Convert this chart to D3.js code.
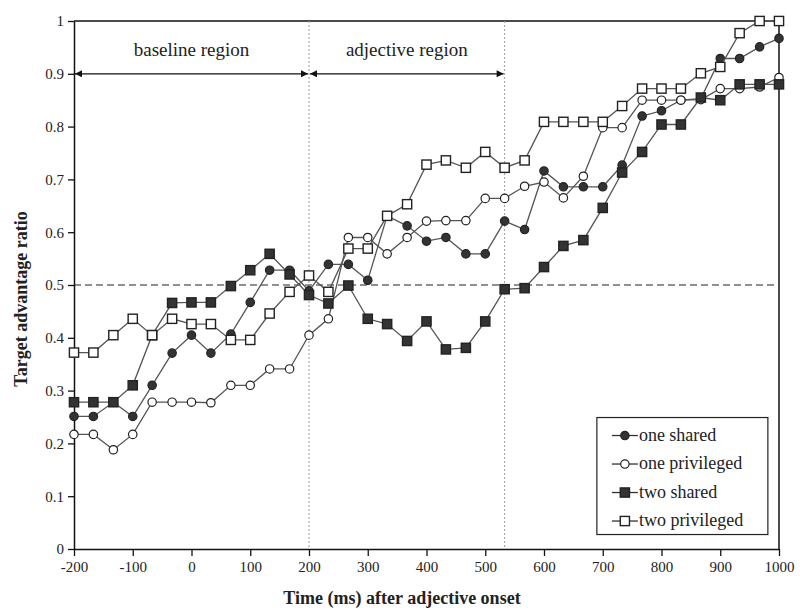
<!DOCTYPE html>
<html>
<head>
<meta charset="utf-8">
<script src="https://cdn.jsdelivr.net/npm/d3@7"></script>
<style>
  body { margin: 0; background: #fff; }
  text { font-family: "Liberation Serif", "Times New Roman", serif; fill: #222; }
</style>
</head>
<body>
<div id="chart"></div>
<script>
// time points (ms after adjective onset), one every 33 ms
var times = [-200, -167, -133, -100, -67, -33, 0, 33, 67, 100, 133, 167, 200, 233, 267, 300, 333,
  367, 400, 433, 467, 500, 533, 567, 600, 633, 667, 700, 733, 767, 800, 833, 867, 900, 933, 967, 1000];

var oneShared = [0.251, 0.251, 0.278, 0.251, 0.310, 0.371, 0.405, 0.371, 0.407, 0.467, 0.528, 0.528,
  0.489, 0.539, 0.539, 0.509, 0.631, 0.612, 0.583, 0.590, 0.559, 0.559, 0.621, 0.605, 0.716, 0.686,
  0.686, 0.686, 0.727, 0.820, 0.830, 0.850, 0.853, 0.929, 0.929, 0.951, 0.967];

var onePrivileged = [0.217, 0.217, 0.188, 0.217, 0.278, 0.278, 0.278, 0.277, 0.310, 0.310, 0.341, 0.341,
  0.405, 0.436, 0.590, 0.590, 0.559, 0.590, 0.621, 0.622, 0.622, 0.664, 0.664, 0.687, 0.695, 0.665,
  0.706, 0.798, 0.798, 0.850, 0.850, 0.850, 0.851, 0.872, 0.872, 0.875, 0.893];

var twoShared = [0.278, 0.278, 0.278, 0.310, 0.405, 0.466, 0.467, 0.467, 0.498, 0.528, 0.559, 0.520,
  0.481, 0.465, 0.499, 0.436, 0.426, 0.394, 0.431, 0.378, 0.381, 0.431, 0.492, 0.494, 0.534, 0.574,
  0.585, 0.646, 0.713, 0.752, 0.804, 0.804, 0.855, 0.850, 0.880, 0.880, 0.880];

var twoPrivileged = [0.372, 0.372, 0.405, 0.436, 0.405, 0.436, 0.426, 0.426, 0.396, 0.396, 0.446, 0.487,
  0.518, 0.487, 0.569, 0.569, 0.631, 0.653, 0.728, 0.736, 0.722, 0.752, 0.722, 0.736, 0.809, 0.809,
  0.809, 0.809, 0.839, 0.872, 0.872, 0.872, 0.901, 0.913, 0.977, 1.0, 1.0];

var seriesNames = ["one shared", "one privileged", "two shared", "two privileged"];
var xTicks = [-200, -100, 0, 100, 200, 300, 400, 500, 600, 700, 800, 900, 1000];
var yTicks = [0, 0.1, 0.2, 0.3, 0.4, 0.5, 0.6, 0.7, 0.8, 0.9, 1];
var regionBounds = [-200, 200, 533];
var regionLabels = ["baseline region", "adjective region"];

var svgWidth = 800;
var svgHeight = 611;
var margin = { top: 21, right: 21, bottom: 62, left: 74 };
var width = svgWidth - margin.left - margin.right;
var height = svgHeight - margin.top - margin.bottom;

var svg = d3.select("#chart")
  .append("svg")
  .attr("width", svgWidth)
  .attr("height", svgHeight);

// arrow heads for the region arrows
var defs = svg.append("defs");
defs.append("marker")
  .attr("id", "head")
  .attr("viewBox", "0 0 10 10")
  .attr("refX", 10)
  .attr("refY", 5)
  .attr("markerWidth", 10)
  .attr("markerHeight", 7)
  .attr("markerUnits", "userSpaceOnUse")
  .attr("orient", "auto-start-reverse")
  .append("path")
  .attr("d", "M0,0 L10,5 L0,10 Z")
  .attr("fill", "#111");

var chartGroup = svg.append("g")
  .attr("transform", `translate(${margin.left}, ${margin.top})`);

var x = d3.scaleLinear().domain([-200, 1000]).range([0, width]);
var y = d3.scaleLinear().domain([0, 1]).range([height, 0]);

// frame: top and right lines
chartGroup.append("line")
  .attr("x1", 0).attr("x2", width).attr("y1", 0).attr("y2", 0)
  .attr("stroke", "#111").attr("stroke-width", 1.5);
chartGroup.append("line")
  .attr("x1", width).attr("x2", width).attr("y1", 0).attr("y2", height)
  .attr("stroke", "#111").attr("stroke-width", 1.5);

// axes
var bottomAxis = d3.axisBottom(x).tickValues(xTicks).tickSize(7).tickSizeOuter(0).tickPadding(5)
  .tickFormat(d => String(d));
var leftAxis = d3.axisLeft(y).tickValues(yTicks).tickSize(6).tickSizeOuter(0).tickPadding(4)
  .tickFormat(d => String(d));

var xAxis = chartGroup.append("g")
  .attr("transform", `translate(0, ${height})`)
  .call(bottomAxis);
var yAxis = chartGroup.append("g").call(leftAxis);

[xAxis, yAxis].forEach(function(ax) {
  ax.select(".domain").attr("stroke", "#111").attr("stroke-width", 1.5);
  ax.selectAll(".tick line").attr("stroke", "#111").attr("stroke-width", 1.3);
  ax.selectAll(".tick text")
    .attr("font-family", "Liberation Serif, serif")
    .attr("font-size", 15)
    .attr("fill", "#222");
});

// region boundaries (dotted verticals)
chartGroup.selectAll(".boundary")
  .data(regionBounds.slice(1))
  .enter()
  .append("line")
  .attr("class", "boundary")
  .attr("x1", d => x(d)).attr("x2", d => x(d))
  .attr("y1", 0).attr("y2", height)
  .attr("stroke", "#999")
  .attr("stroke-width", 1)
  .attr("stroke-dasharray", "2,2");

// chance line at 0.5
chartGroup.append("line")
  .attr("x1", 0).attr("x2", width - 3)
  .attr("y1", y(0.5)).attr("y2", y(0.5))
  .attr("stroke", "#222")
  .attr("stroke-width", 1.2)
  .attr("stroke-dasharray", "7,4");

// region arrows and labels
for (var r = 0; r < regionLabels.length; r++) {
  var x0 = x(regionBounds[r]);
  var x1 = x(regionBounds[r + 1]);
  chartGroup.append("line")
    .attr("x1", x0 + 1).attr("x2", x1 - 1)
    .attr("y1", y(0.9)).attr("y2", y(0.9))
    .attr("stroke", "#111")
    .attr("stroke-width", 1.3)
    .attr("marker-start", "url(#head)")
    .attr("marker-end", "url(#head)");
  chartGroup.append("text")
    .attr("x", (x0 + x1) / 2)
    .attr("y", y(0.9) - 18)
    .attr("text-anchor", "middle")
    .attr("font-size", 19)
    .text(regionLabels[r]);
}

// series data
var allSeries = [oneShared, onePrivileged, twoShared, twoPrivileged];
var shapes = ["circle", "circle", "square", "square"];
var fills = ["#333", "#fff", "#333", "#fff"];

var line = d3.line()
  .x((d, i) => x(times[i]))
  .y(d => y(d));

function drawMarker(g, shape, fill, cx, cy) {
  if (shape === "circle") {
    g.append("circle")
      .attr("cx", cx).attr("cy", cy).attr("r", 4.2)
      .attr("fill", fill)
      .attr("stroke", "#222")
      .attr("stroke-width", 1.2);
  } else {
    g.append("rect")
      .attr("x", cx - 4.6).attr("y", cy - 4.6)
      .attr("width", 9.2).attr("height", 9.2)
      .attr("fill", fill)
      .attr("stroke", "#222")
      .attr("stroke-width", 1.4);
  }
}

allSeries.forEach(function(values, s) {
  var g = chartGroup.append("g");
  g.append("path")
    .datum(values)
    .attr("d", line)
    .attr("fill", "none")
    .attr("stroke", "#555")
    .attr("stroke-width", 1.3);
  values.forEach(function(v, i) {
    drawMarker(g, shapes[s], fills[s], x(times[i]), y(v));
  });
});

// legend
var legend = chartGroup.append("g")
  .attr("transform", `translate(${x(690)}, ${y(0.249)})`);
legend.append("rect")
  .attr("x", 0).attr("y", 0)
  .attr("width", 171).attr("height", 117)
  .attr("fill", "#fff")
  .attr("stroke", "#222")
  .attr("stroke-width", 1.2);

seriesNames.forEach(function(name, s) {
  var ly = 18 + s * 28.5;
  var lg = legend.append("g");
  lg.append("line")
    .attr("x1", 15).attr("x2", 41)
    .attr("y1", ly).attr("y2", ly)
    .attr("stroke", "#333")
    .attr("stroke-width", 1.3);
  drawMarker(lg, shapes[s], fills[s], 28, ly);
  lg.append("text")
    .attr("x", 42)
    .attr("y", ly + 5)
    .attr("font-size", 18)
    .text(name);
});

// axis titles
svg.append("text")
  .attr("x", 402)
  .attr("y", 604)
  .attr("text-anchor", "middle")
  .attr("font-size", 18)
  .attr("font-weight", "bold")
  .text("Time (ms) after adjective onset");

svg.append("text")
  .attr("transform", `translate(27, ${margin.top + height / 2 + 14}) rotate(-90)`)
  .attr("text-anchor", "middle")
  .attr("font-size", 18)
  .attr("font-weight", "bold")
  .text("Target advantage ratio");
</script>
</body>
</html>
